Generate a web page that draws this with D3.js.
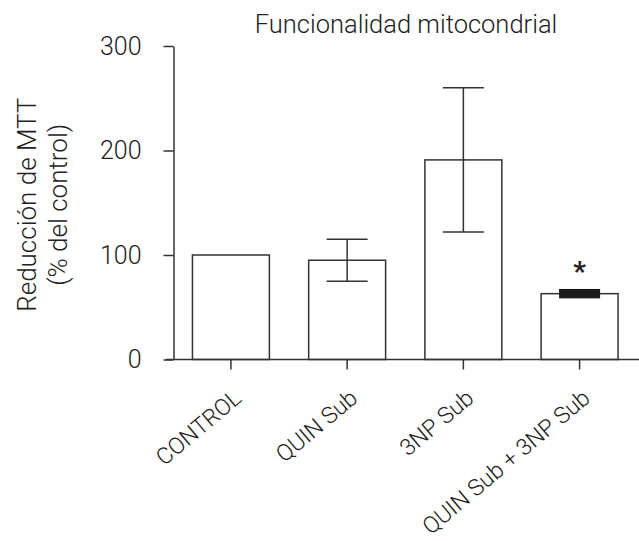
<!DOCTYPE html>
<html>
<head>
<meta charset="utf-8">
<script src="https://cdn.jsdelivr.net/npm/d3@7"></script>
<style>
  body { margin: 0; background: #fff; }
  text { font-family: Roboto, "Open Sans", sans-serif; fill: #222; font-weight: 300; }
</style>
</head>
<body>
<div id="chart"></div>
<script>
const groups = ["CONTROL", "QUIN Sub", "3NP Sub", "QUIN Sub + 3NP Sub"];
const means = [100, 95, 191, 63];
const errors = [0, 20, 69, 4.5];
const significant = [false, false, false, true];
const yTicks = [0, 100, 200, 300];

const width = 639, height = 541;
const axisColor = "#333";

const svg = d3.select("#chart").append("svg")
    .attr("width", width)
    .attr("height", height);

const x = d3.scaleBand()
    .domain(groups)
    .range([173.5, 637])
    .paddingInner(0.338)
    .paddingOuter(0.163);

const y = d3.scaleLinear()
    .domain([0, 300])
    .range([359.5, 46]);

// title
svg.append("text")
    .attr("x", 406)
    .attr("y", 33)
    .attr("text-anchor", "middle")
    .attr("font-size", 25.5)
    .text("Funcionalidad mitocondrial");

// y axis title, two lines
const yTitle = svg.append("text")
    .attr("transform", "translate(36," + (y(150) + 2) + ") rotate(-90)")
    .attr("text-anchor", "middle")
    .attr("font-size", 26);
yTitle.append("tspan").attr("x", 0).attr("dy", 0).text("Reducción de MTT");
yTitle.append("tspan").attr("x", 0).attr("dy", 31).text("(% del control)");

// bars
const bars = svg.append("g");
bars.selectAll("rect")
    .data(groups)
    .join("rect")
    .attr("x", d => x(d))
    .attr("y", (d, i) => y(means[i]))
    .attr("width", x.bandwidth())
    .attr("height", (d, i) => y(0) - y(means[i]))
    .attr("fill", "#fff")
    .attr("stroke", axisColor)
    .attr("stroke-width", 1.5);

// error bars
const capW = 41;
groups.forEach((g, i) => {
    if (!errors[i]) return;
    const cx = x(g) + x.bandwidth() / 2;
    const hi = y(means[i] + errors[i]), lo = y(means[i] - errors[i]);
    const eb = svg.append("g")
        .attr("stroke", axisColor)
        .attr("stroke-width", 1.5);
    if (lo - hi < 12) {
        // tiny error: caps merge into a solid block
        svg.append("rect")
            .attr("x", cx - capW / 2)
            .attr("y", hi)
            .attr("width", capW)
            .attr("height", lo - hi)
            .attr("fill", "#1a1a1a");
        return;
    }
    eb.append("line").attr("x1", cx).attr("x2", cx).attr("y1", hi).attr("y2", lo);
    eb.append("line").attr("x1", cx - capW / 2).attr("x2", cx + capW / 2).attr("y1", hi).attr("y2", hi);
    eb.append("line").attr("x1", cx - capW / 2).attr("x2", cx + capW / 2).attr("y1", lo).attr("y2", lo);
});

// significance marks
svg.append("g").selectAll("text")
    .data(groups.filter((g, i) => significant[i]))
    .join("text")
    .attr("x", d => x(d) + x.bandwidth() / 2)
    .attr("y", d => {
        const i = groups.indexOf(d);
        return y(means[i] + errors[i]) - 8;
    })
    .attr("text-anchor", "middle")
    .attr("font-size", 28)
    .style("font-weight", "bold")
    .text("*");

// y axis
const yAxis = svg.append("g")
    .attr("transform", "translate(173.5,0)")
    .call(d3.axisLeft(y).tickValues(yTicks).tickSize(10).tickPadding(22).tickSizeOuter(0));
yAxis.select(".domain").attr("stroke", axisColor).attr("stroke-width", 1.5);
yAxis.selectAll(".tick line").attr("stroke", axisColor).attr("stroke-width", 1.5);
yAxis.selectAll(".tick text")
    .attr("font-size", 25)
    .attr("font-family", null)
    .attr("fill", null);

// x axis
const xAxis = svg.append("g")
    .attr("transform", "translate(0," + y(0) + ")")
    .call(d3.axisBottom(x).tickSize(10).tickSizeOuter(0));
xAxis.select(".domain").remove();
xAxis.append("line")
    .attr("x1", 166).attr("x2", width)
    .attr("stroke", axisColor).attr("stroke-width", 1.5);
xAxis.selectAll(".tick line").attr("stroke", axisColor).attr("stroke-width", 1.5);
xAxis.selectAll(".tick text")
    .attr("font-size", 23)
    .attr("font-family", null)
    .attr("fill", null)
    .attr("text-anchor", "end")
    .attr("dy", 0)
    .attr("y", 0)
    .attr("transform", "translate(12,41) rotate(-40)");
</script>
</body>
</html>
